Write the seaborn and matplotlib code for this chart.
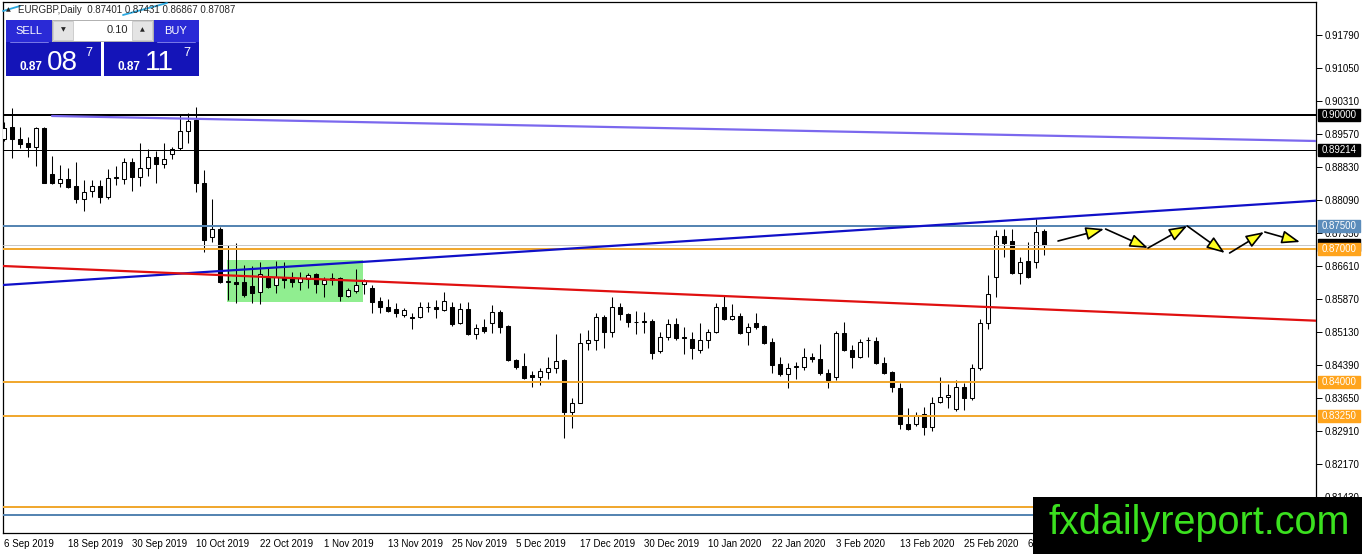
import numpy as np
import pandas as pd
import matplotlib
matplotlib.use("Agg")
import matplotlib.pyplot as plt
import seaborn as sns
from matplotlib.patches import Rectangle
from matplotlib.lines import Line2D
from matplotlib.transforms import blended_transform_factory

# EURGBP daily candles (6 Sep 2019 .. 10 Mar 2020)
dates = pd.bdate_range("2019-09-06", "2020-03-10", freq="C",
                       holidays=["2019-12-25", "2020-01-01"])
opens = [.8946, .8973, .8946, .8937, .8928, .8970, .8867, .8846, .8856, .8840,
         .8811, .8829, .8840, .8816, .8858, .8856, .8894, .8861, .8881, .8905,
         .8890, .8912, .8926, .8964, .8988, .8847, .8726, .8744, .8625, .8625,
         .8625, .8616, .8603, .8634, .8618, .8636, .8636, .8625, .8632, .8643,
         .8621, .8634, .8634, .8594, .8605, .8621, .8612, .8583, .8568, .8565,
         .8551, .8547, .8547, .8568, .8568, .8562, .8568, .8533, .8565, .8509,
         .8524, .8533, .8558, .8527, .8450, .8437, .8416, .8412, .8423, .8432,
         .8450, .8334, .8354, .8488, .8495, .8547, .8513, .8568, .8553, .8535,
         .8535, .8538, .8470, .8502, .8531, .8502, .8498, .8473, .8495, .8513,
         .8568, .8542, .8549, .8513, .8533, .8527, .8491, .8441, .8419, .8435,
         .8435, .8457, .8452, .8421, .8412, .8511, .8473, .8457, .8495, .8493,
         .8443, .8423, .8388, .8307, .8307, .8329, .8300, .8356, .8367, .8341,
         .8390, .8365, .8432, .8533, .8636, .8728, .8717, .8645, .8672, .8670,
         .87401]
highs = [.8984, .9015, .8973, .8950, .8973, .8973, .8908, .8887, .8881, .8894,
         .8854, .8854, .8854, .8879, .8885, .8903, .8903, .8937, .8923, .8919,
         .8937, .8928, .9000, .9004, .9018, .8876, .8811, .8748, .8708, .8713,
         .8663, .8661, .8670, .8659, .8672, .8670, .8648, .8648, .8645, .8645,
         .8636, .8645, .8636, .8612, .8654, .8632, .8618, .8591, .8587, .8578,
         .8567, .8556, .8580, .8580, .8585, .8603, .8580, .8578, .8580, .8531,
         .8542, .8574, .8562, .8529, .8452, .8466, .8425, .8432, .8457, .8509,
         .8452, .8365, .8511, .8517, .8556, .8551, .8591, .8578, .8555, .8560,
         .8558, .8542, .8513, .8542, .8544, .8524, .8513, .8533, .8520, .8578,
         .8594, .8576, .8556, .8533, .8556, .8529, .8500, .8457, .8443, .8446,
         .8477, .8466, .8486, .8430, .8516, .8536, .8484, .8498, .8502, .8502,
         .8457, .8425, .8399, .8343, .8334, .8345, .8367, .8412, .8396, .8405,
         .8399, .8441, .8542, .8641, .8742, .8744, .8744, .8681, .8715, .8766,
         .87431]
lows = [.8941, .8903, .8926, .8905, .8885, .8846, .8845, .8838, .8836, .8802,
        .8784, .8816, .8802, .8811, .8843, .8845, .8829, .8840, .8863, .8847,
        .8881, .8901, .8921, .8937, .8827, .8692, .8715, .8623, .8585, .8578,
        .8591, .8578, .8576, .8612, .8600, .8612, .8614, .8607, .8612, .8600,
        .8591, .8618, .8583, .8591, .8600, .8598, .8556, .8556, .8558, .8547,
        .8547, .8520, .8545, .8558, .8545, .8560, .8527, .8531, .8506, .8497,
        .8511, .8511, .8511, .8448, .8430, .8408, .8390, .8394, .8408, .8421,
        .8276, .8298, .8354, .8473, .8473, .8477, .8502, .8540, .8524, .8509,
        .8511, .8452, .8466, .8495, .8495, .8464, .8452, .8466, .8477, .8511,
        .8540, .8540, .8509, .8484, .8520, .8486, .8421, .8414, .8387, .8408,
        .8428, .8446, .8416, .8387, .8405, .8470, .8432, .8455, .8458, .8441,
        .8419, .8378, .8296, .8293, .8302, .8282, .8291, .8354, .8343, .8336,
        .8338, .8360, .8428, .8520, .8591, .8681, .8643, .8621, .8634, .8657,
        .86867]
closes = [.8970, .8946, .8935, .8928, .8970, .8848, .8846, .8856, .8838, .8811,
          .8827, .8840, .8816, .8858, .8861, .8894, .8861, .8881, .8905, .8890,
          .8901, .8923, .8964, .8986, .8847, .8719, .8744, .8625, .8627, .8621,
          .8596, .8600, .8643, .8614, .8636, .8630, .8625, .8634, .8641, .8621,
          .8630, .8630, .8594, .8607, .8618, .8627, .8580, .8568, .8560, .8556,
          .8562, .8545, .8568, .8570, .8565, .8583, .8531, .8565, .8509, .8522,
          .8515, .8558, .8524, .8450, .8435, .8410, .8412, .8425, .8432, .8448,
          .8334, .8354, .8488, .8495, .8547, .8513, .8568, .8553, .8535, .8536,
          .8538, .8466, .8502, .8531, .8500, .8500, .8477, .8495, .8513, .8568,
          .8542, .8549, .8511, .8524, .8524, .8488, .8439, .8419, .8432, .8436,
          .8457, .8452, .8421, .8405, .8511, .8473, .8457, .8491, .8494, .8443,
          .8421, .8390, .8307, .8296, .8327, .8300, .8354, .8367, .8372, .8390,
          .8365, .8432, .8533, .8598, .8728, .8713, .8645, .8670, .8636, .8737,
          .87087]

header_text = "EURGBP,Daily  0.87401 0.87431 0.86867 0.87087"
price_ticks = [0.81430, 0.82170, 0.82910, 0.83650, 0.84390, 0.85130, 0.85870,
               0.86610, 0.87350, 0.88090, 0.88830, 0.89570, 0.90310, 0.91050,
               0.91790]

# horizontal levels: price, colour, width (px)
levels = [(0.90000, "black", 2.0), (0.89214, "black", 1.0),
          (0.87500, "#5685B2", 2.0), (0.87087, "#C8C8C8", 1.0),
          (0.87000, "#F0A830", 2.0), (0.84000, "#F0A830", 2.0),
          (0.83250, "#F0A830", 2.0), (0.81200, "#F0A830", 2.0),
          (0.81020, "#5685B2", 2.0)]
# labelled boxes on the price scale (bid box sits under the 0.87 box, no readable text)
bid_price = 0.87087
level_boxes = [(0.90000, "black"), (0.89214, "black"),
               (0.87500, "#5B8CBB"), (0.87000, "#FFA41C"), (0.84000, "#FFA41C"),
               (0.83250, "#FFA41C")]

# trend lines (bar index, price)
trend_names = ["purple", "purple", "blue", "blue", "red", "red"]
trend_bars = [6.0, 164.0, -0.2, 164.0, -0.2, 164.0]
trend_prices = [0.89974, 0.89413, 0.86183, 0.88074, 0.86610, 0.85383]

# green consolidation box
box_bars = (27.9, 44.9)
box_prices = (0.85802, 0.86744)

# projected zig-zag arrows (bar index, price)
arrow_x0 = [131.75, 137.7, 143.0, 147.9, 153.2, 157.6]
arrow_y0 = [0.87170, 0.87439, 0.87013, 0.87507, 0.86901, 0.87372]
arrow_x1 = [137.5, 143.0, 147.9, 152.6, 157.5, 162.0]
arrow_y1 = [0.87439, 0.87013, 0.87507, 0.86901, 0.87372, 0.87148]

W, H = 1362, 554
sns.set_style("white")
plt.rcParams["font.family"] = ["Liberation Sans", "DejaVu Sans"]

fig = plt.figure(figsize=(W / 100, H / 100), dpi=100)
ax = fig.add_axes([3 / W, 21 / H, 1313 / W, 531 / H])

x = np.arange(len(dates))
o = np.array(opens); c = np.array(closes)
hi = np.array(highs); lo = np.array(lows)
up = c >= o

# consolidation rectangle
ax.add_patch(Rectangle((box_bars[0], box_prices[0]), box_bars[1] - box_bars[0],
                       box_prices[1] - box_prices[0], color="#90EE90", zorder=1, lw=0))

# candles
ax.vlines(x, lo, hi, color="black", lw=0.75, zorder=2)
ax.bar(x[up], c[up] - o[up], bottom=o[up], width=0.6, color="white",
       edgecolor="black", linewidth=0.75, zorder=3)
ax.bar(x[~up], o[~up] - c[~up], bottom=c[~up], width=0.6, color="black",
       edgecolor="black", linewidth=0.75, zorder=3)

# horizontal levels
for p, col, w in levels:
    ax.axhline(p, color=col, lw=w * 0.72, zorder=4)

# trend lines
trend_df = pd.DataFrame({"bar": trend_bars, "price": trend_prices, "line": trend_names})
sns.lineplot(data=trend_df, x="bar", y="price", hue="line", ax=ax, legend=False,
             palette={"purple": "#7B68EE", "blue": "#1010C8", "red": "#E01010"},
             linewidth=1.6, zorder=4)

# arrows
for a, b, cc, d in zip(arrow_x0, arrow_y0, arrow_x1, arrow_y1):
    ax.annotate("", xy=(cc, d), xytext=(a, b), zorder=5,
                arrowprops=dict(arrowstyle="-|>,head_length=0.55,head_width=0.2",
                                fc="#FFFF20", ec="black", lw=1.2,
                                shrinkA=0, shrinkB=0, mutation_scale=20))

ax.set_xlim(-0.125, 164)
ax.set_ylim(0.80622, 0.92530)
ax.set_xlabel("")
ax.set_ylabel("")

# axes
ax.yaxis.tick_right()
ax.set_yticks(price_ticks)
ax.set_yticklabels([f"{t:.5f}" for t in price_ticks])
tick_pos = x[::8]
ax.set_xticks(tick_pos)
ax.set_xticklabels([f"{d.day} {d:%b %Y}" for d in dates[::8]])
for lbl in ax.get_xticklabels():
    lbl.set_ha("left")
ax.tick_params(axis="both", direction="out", length=4, width=0.7, colors="black",
               labelsize=7, pad=2)
ax.tick_params(axis="x", length=3, pad=1)
for sp in ax.spines.values():
    sp.set_color("black")
    sp.set_linewidth(0.9)
    sp.set_visible(True)

# price boxes on the right scale
tr = blended_transform_factory(ax.transAxes, ax.transData)
bw = 42 / 1313
bh = 12 / 531 * (0.92530 - 0.80622)
ax.add_patch(Rectangle((1.0015, bid_price - bh / 2), bw, bh, transform=tr,
                       color="black", clip_on=False, zorder=6))
for p, col in level_boxes:
    ax.add_patch(Rectangle((1.0015, p - bh / 2), bw, bh, transform=tr, color=col,
                           clip_on=False, zorder=6))
    ax.text(1.0015 + bw / 2, p, f"{p:.5f}", transform=tr, color="white", fontsize=7,
            ha="center", va="center", clip_on=False, zorder=7)


def fx(px):
    return px / W


def fy(py):
    return 1 - py / H


def frect(x0, y0, x1, y1, **kw):
    fig.add_artist(Rectangle((fx(x0), fy(y1)), (x1 - x0) / W, (y1 - y0) / H,
                             transform=fig.transFigure, **kw))


# header line and cyan strokes
fig.text(fx(8), fy(10), "▲", fontsize=4.5, va="center", ha="center",
         family="DejaVu Sans")
fig.text(fx(18), fy(10), header_text, fontsize=7, va="center")
fig.add_artist(Line2D([fx(3), fx(20)], [fy(11), fy(6)], color="#2AA8E0", lw=1.3,
                      transform=fig.transFigure))
fig.add_artist(Line2D([fx(123), fx(167)], [fy(15), fy(3)], color="#2AA8E0", lw=1.3,
                      transform=fig.transFigure))

# one-click trading panel
frect(6, 20, 52, 42, color="#2A2AD6", lw=0)
frect(153, 20, 199, 42, color="#2A2AD6", lw=0)
frect(6, 42, 101, 76, color="#1414B8", lw=0)
frect(104, 42, 199, 76, color="#1414B8", lw=0)
frect(52, 20, 153, 41, facecolor="white", edgecolor="#B0B0B0", lw=0.7)
frect(53, 21, 73, 40, facecolor="#E4E4E4", edgecolor="#C0C0C0", lw=0.5)
frect(132, 21, 152, 40, facecolor="#E4E4E4", edgecolor="#C0C0C0", lw=0.5)
fig.add_artist(Line2D([fx(10), fx(48)], [fy(42), fy(42)], color="#8A8AF0", lw=0.6,
                      transform=fig.transFigure))
fig.add_artist(Line2D([fx(157), fx(195)], [fy(42), fy(42)], color="#8A8AF0", lw=0.6,
                      transform=fig.transFigure))
fig.text(fx(29), fy(31), "SELL", color="white", fontsize=8, ha="center", va="center")
fig.text(fx(176), fy(31), "BUY", color="white", fontsize=8, ha="center", va="center")
fig.text(fx(63), fy(30), "▼", fontsize=4.5, ha="center", va="center", family="DejaVu Sans")
fig.text(fx(142), fy(30), "▲", fontsize=4.5, ha="center", va="center", family="DejaVu Sans")
fig.text(fx(128), fy(30), "0.10", fontsize=8, ha="right", va="center")
for x0, big in [(20, "08"), (118, "11")]:
    fig.text(fx(x0), fy(70), "0.87", color="white", fontsize=8.5, weight="bold",
             ha="left", va="baseline")
    fig.text(fx(x0 + 27), fy(70), big, color="white", fontsize=20, ha="left",
             va="baseline")
    fig.text(fx(x0 + 65), fy(56), "7", color="white", fontsize=9, ha="left",
             va="baseline")

# watermark
frect(1033, 497, 1362, 554, color="black", lw=0)
fig.text(fx(1199), fy(523), "fxdailyreport.com", color="#3BE01F", fontsize=28.5,
         ha="center", va="center")

fig.savefig("out.png", dpi=100)
